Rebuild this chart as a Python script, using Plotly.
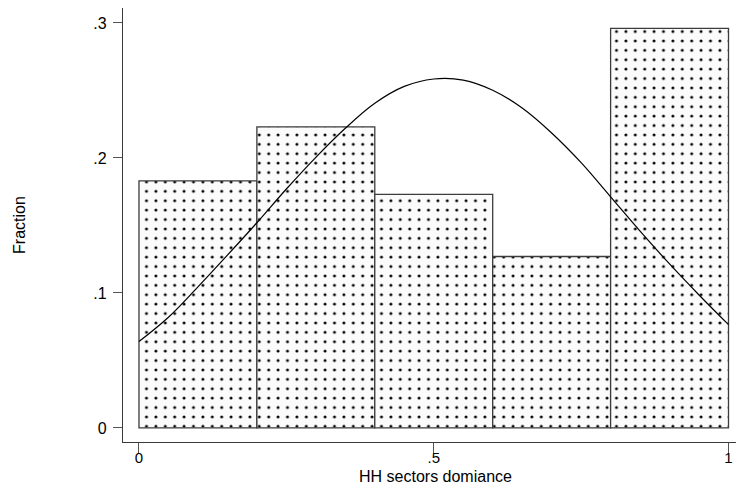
import plotly.graph_objects as go

# Histogram of HH sector dominance (fraction of observations per bin)
bin_left = [0.0, 0.2, 0.4, 0.6, 0.8]
bin_width = 0.2
fractions = [0.183, 0.223, 0.173, 0.127, 0.296]

# Overlaid normal density curve (scaled to fraction units)
curve_x = [0.0, 0.05, 0.10, 0.15, 0.20, 0.25, 0.30, 0.35, 0.40, 0.45, 0.50,
           0.55, 0.60, 0.65, 0.70, 0.75, 0.80, 0.85, 0.90, 0.95, 1.0]
curve_y = [0.064, 0.082, 0.1045, 0.128, 0.152, 0.177, 0.2005, 0.222, 0.2405,
           0.253, 0.2585, 0.2577, 0.2502, 0.237, 0.2185, 0.1965, 0.1712,
           0.1458, 0.1215, 0.0985, 0.0765]

y_tickvals = [0, 0.1, 0.2, 0.3]
y_ticktext = ["0", ".1", ".2", ".3"]
x_tickvals = [0, 0.5, 1]
x_ticktext = ["0", ".5", "1"]

FONT = "Arial, 'Liberation Sans', sans-serif"

fig = go.Figure()

fig.add_trace(go.Bar(
    x=[b + bin_width / 2 for b in bin_left],
    y=fractions,
    width=bin_width,
    marker=dict(
        color="white",
        line=dict(color="#3c3c3c", width=1.3),
        pattern=dict(shape=".", fillmode="replace", bgcolor="#fbfbfb",
                     fgcolor="black", size=9.4, solidity=0.08),
    ),
    showlegend=False,
    hoverinfo="skip",
))

fig.add_trace(go.Scatter(
    x=curve_x, y=curve_y, mode="lines",
    line=dict(color="black", width=1.2, shape="spline", smoothing=1.0),
    showlegend=False, hoverinfo="skip",
))

fig.update_layout(
    width=736, height=487,
    margin=dict(l=123, r=0, t=8, b=45),
    paper_bgcolor="white", plot_bgcolor="white",
    font=dict(family=FONT, size=16, color="black"),
    bargap=0.011,
    xaxis=dict(
        range=[-0.0271, 1.0127],
        tickvals=x_tickvals, ticktext=x_ticktext,
        showgrid=False, zeroline=False,
        showline=True, linecolor="#3a3a3a", linewidth=1.2,
        ticks="outside", ticklen=10, tickcolor="#555555", tickwidth=1.2,
        tickfont=dict(size=15), ticklabelstandoff=-8,
    ),
    yaxis=dict(
        range=[-0.0104, 0.3111],
        tickvals=y_tickvals, ticktext=y_ticktext,
        showgrid=False, zeroline=False,
        showline=True, linecolor="#3a3a3a", linewidth=1.2,
        ticks="outside", ticklen=9, tickcolor="#555555", tickwidth=1.2,
        tickfont=dict(size=16), ticklabelstandoff=3,
    ),
    annotations=[
        dict(text="HH sectors domiance", xref="paper", yref="paper",
             x=0.509, y=-0.079, xanchor="center", yanchor="middle",
             showarrow=False, font=dict(size=16)),
        dict(text="Fraction", xref="paper", yref="paper",
             x=-0.1697, y=0.5, xanchor="center", yanchor="middle",
             textangle=-90, showarrow=False, font=dict(size=16)),
    ],
)

fig.write_html("out.html")
